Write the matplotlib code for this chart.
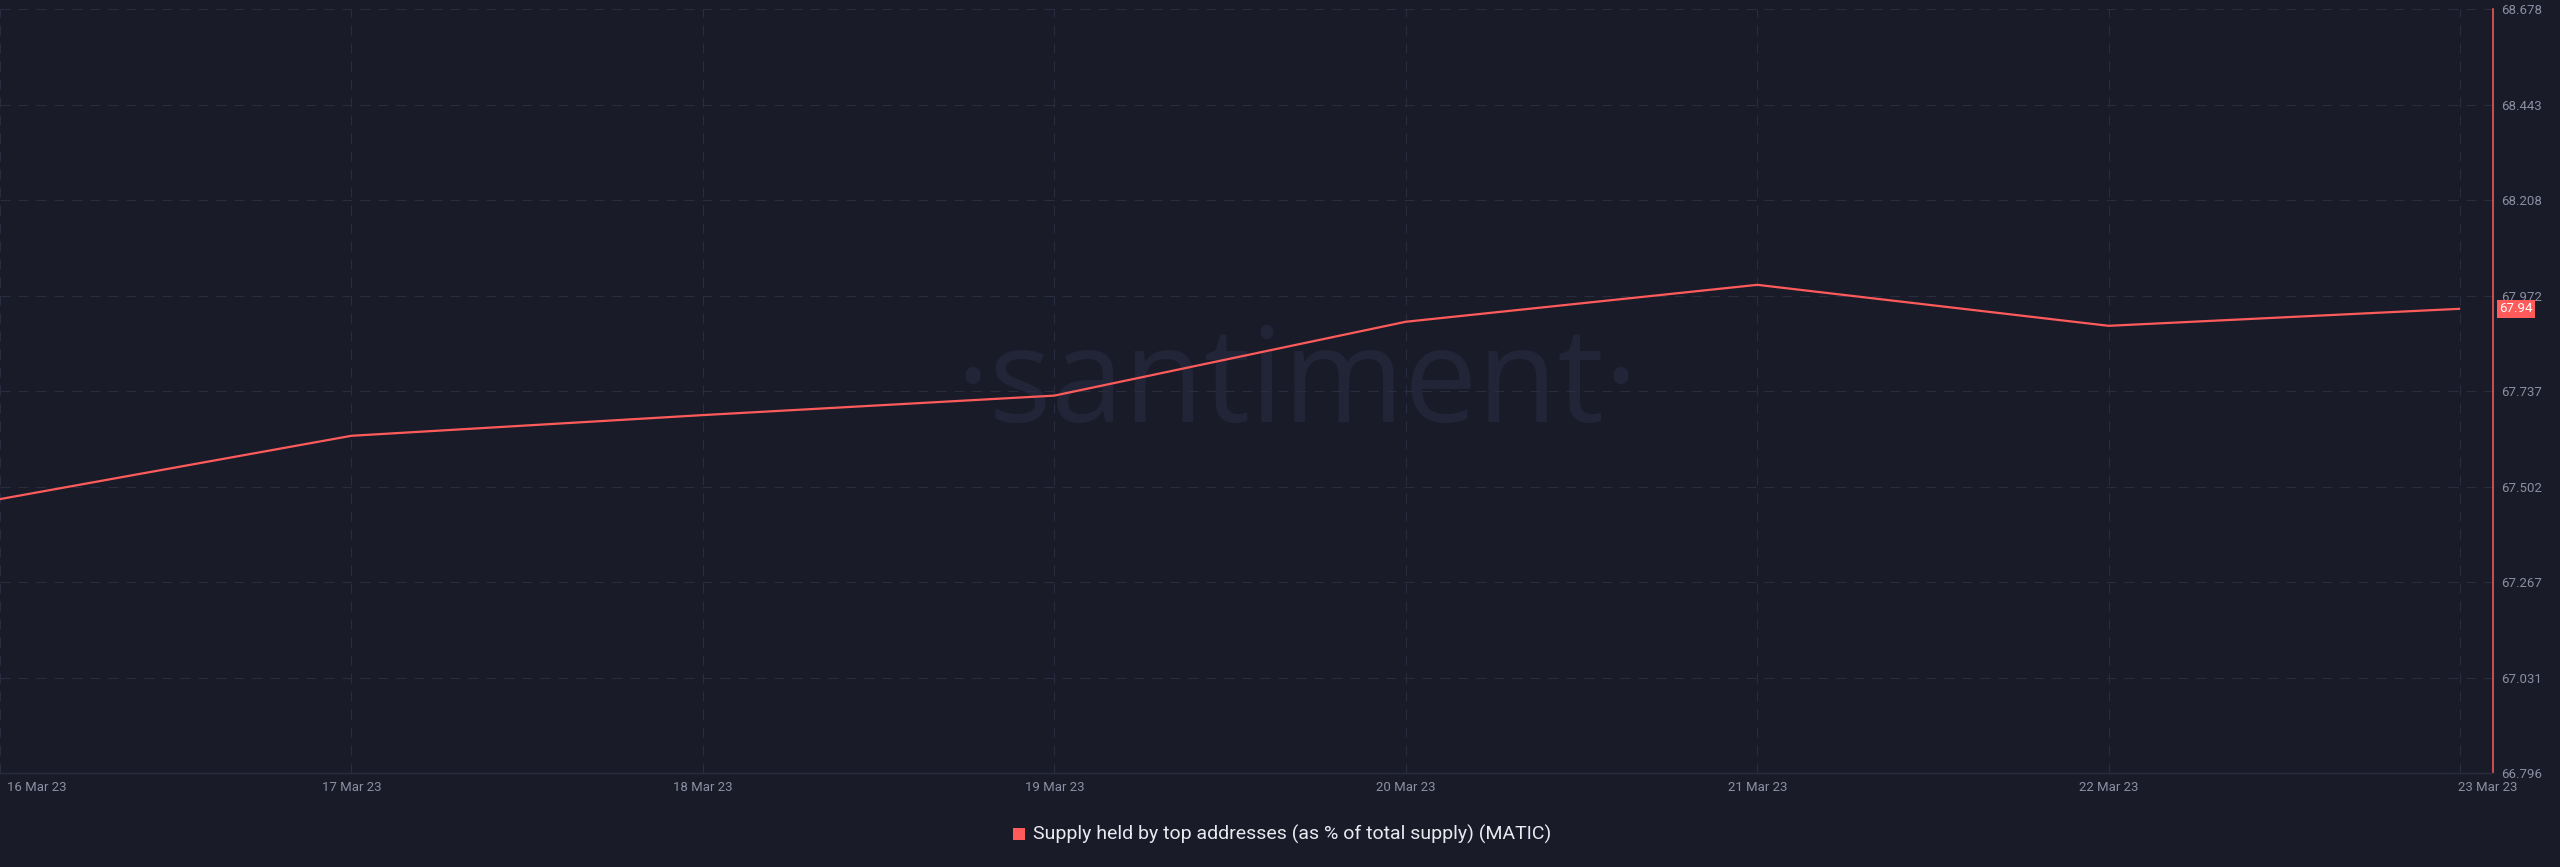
import matplotlib
matplotlib.use("Agg")
import matplotlib.pyplot as plt
import matplotlib.transforms as mtrans
import pandas as pd

# ---- data ----
dates = ["2023-03-16", "2023-03-17", "2023-03-18", "2023-03-19",
         "2023-03-20", "2023-03-21", "2023-03-22", "2023-03-23"]
supply_pct = [67.471, 67.627, 67.678, 67.726, 67.908, 67.999, 67.898, 67.940]
x_tick_labels = ["16 Mar 23", "17 Mar 23", "18 Mar 23", "19 Mar 23",
                 "20 Mar 23", "21 Mar 23", "22 Mar 23", "23 Mar 23"]
y_ticks = [66.796, 67.031, 67.267, 67.502, 67.737, 67.972, 68.208, 68.443, 68.678]
y_tick_labels = ["66.796", "67.031", "67.267", "67.502", "67.737",
                 "67.972", "68.208", "68.443", "68.678"]
last_value_label = "67.94"
series_name = "Supply held by top addresses (as % of total supply) (MATIC)"

# ---- style ----
BG = "#1a1b29"
GRID = "#2a2d3f"
RED = "#ff5b5b"
TICK = "#8b8fa3"
LEGEND_TXT = "#e9eaf0"
WATER = "#222538"

W, H = 2560, 867
DPI = 100
fig = plt.figure(figsize=(W / DPI, H / DPI), dpi=DPI, facecolor=BG)
plt.rcParams['font.family'] = ['Roboto', 'DejaVu Sans']

left_px, right_px, top_px, bot_px = 0, 2493, 9.3, 773
ax = fig.add_axes([left_px / W, 1 - bot_px / H,
                   (right_px - left_px) / W, (bot_px - top_px) / H])
ax.set_facecolor(BG)

x = pd.to_datetime(dates)
x0 = x[0]
ax.set_xlim(x0, x0 + pd.Timedelta(days=7.0934))
ax.set_ylim(y_ticks[0], y_ticks[-1])

# watermark
ax.text(1297 / (right_px - left_px), (bot_px - 422) / (bot_px - top_px), "·santiment·",
        transform=ax.transAxes, ha="center", va="baseline", fontsize=94,
        color=WATER, family=["Open Sans", "DejaVu Sans"], zorder=0)

# grid
for d in x:
    ax.axvline(d, color=GRID, lw=0.72, ls=(0, (10, 8)), zorder=1)
for yv in y_ticks[1:]:
    ax.axhline(yv, color=GRID, lw=0.72, ls=(0, (10, 8)), zorder=1, clip_on=False)

# line
ax.plot(x, supply_pct, color=RED, lw=1.6, zorder=3, solid_capstyle="butt")

# spines
for s in ["top", "left"]:
    ax.spines[s].set_visible(False)
ax.spines["right"].set_color(RED)
ax.spines["right"].set_linewidth(1.1)
ax.spines["bottom"].set_color(GRID)
ax.spines["bottom"].set_linewidth(1.0)

# y ticks on right
ax.yaxis.tick_right()
ax.set_yticks(y_ticks)
ax.set_yticklabels(y_tick_labels)
ax.tick_params(axis="y", length=0, pad=6, labelsize=9.5, labelcolor=TICK)

# x ticks
ax.set_xticks(x)
ax.set_xticklabels(x_tick_labels)
ax.tick_params(axis="x", length=0, pad=6, labelsize=9.5, labelcolor=TICK)
xl = ax.get_xticklabels()
xl[0].set_ha("left")
xl[0].set_transform(xl[0].get_transform() + mtrans.ScaledTranslation(7 / DPI, 0, fig.dpi_scale_trans))
xl[-1].set_ha("left")
xl[-1].set_transform(xl[-1].get_transform() + mtrans.ScaledTranslation(-2 / DPI, 0, fig.dpi_scale_trans))

# last value label
ax.annotate(last_value_label, xy=(1, supply_pct[-1]),
            xycoords=("axes fraction", "data"),
            xytext=(6, 0), textcoords="offset pixels",
            ha="left", va="center", fontsize=9.5, color="white",
            bbox=dict(boxstyle="square,pad=0.18", fc=RED, ec="none"),
            annotation_clip=False, zorder=5)

# legend (custom)
fig.patches.append(plt.Rectangle((1013 / W, 1 - 840 / H), 12 / W, 12 / H,
                                 transform=fig.transFigure, fc=RED, ec="none"))
fig.text(1033 / W, 1 - 834 / H, series_name, ha="left", va="center",
         fontsize=14, color=LEGEND_TXT)

fig.savefig("out.png", dpi=DPI, facecolor=BG)
